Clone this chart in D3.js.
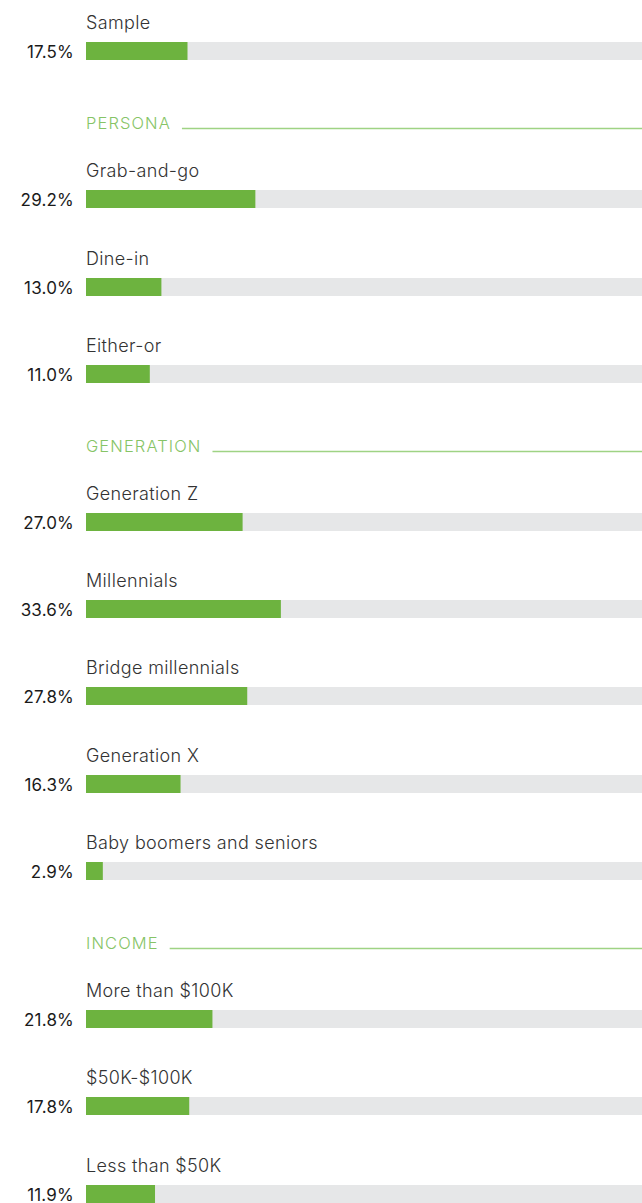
<!DOCTYPE html>
<html>
  <head>
    <meta charset="utf-8">
    <title>Share by segment</title>
    <script src="https://cdn.jsdelivr.net/npm/d3@7"></script>
    <style>
      body { margin: 0; background: #fff; overflow: hidden; }
      svg { display: block; }
      .cat { font-family: Inter, sans-serif; font-weight: 300; font-size: 18px; letter-spacing: 0.35px; fill: #333; }
      .val { font-family: Inter, sans-serif; font-weight: 400; font-size: 17px; letter-spacing: 0.2px; fill: #1a1a1a; text-anchor: end; }
      .head { font-family: Inter, sans-serif; font-weight: 300; font-size: 16.5px; letter-spacing: 1.1px; fill: #86c466; }
    </style>
  </head>
  <body>
    <svg id="chart" width="642" height="1203"></svg>

    <script>
      // data
      sections = ["", "PERSONA", "GENERATION", "INCOME"];
      sampleLabels = ["Sample"];
      sampleValues = [17.5];
      personaLabels = ["Grab-and-go", "Dine-in", "Either-or"];
      personaValues = [29.2, 13.0, 11.0];
      generationLabels = ["Generation Z", "Millennials", "Bridge millennials", "Generation X", "Baby boomers and seniors"];
      generationValues = [27.0, 33.6, 27.8, 16.3, 2.9];
      incomeLabels = ["More than $100K", "$50K-$100K", "Less than $50K"];
      incomeValues = [21.8, 17.8, 11.9];

      groups = [
        { name: sections[0], labels: sampleLabels, values: sampleValues },
        { name: sections[1], labels: personaLabels, values: personaValues },
        { name: sections[2], labels: generationLabels, values: generationValues },
        { name: sections[3], labels: incomeLabels, values: incomeValues }
      ];

      // layout
      width = 642;
      barLeft = 86;
      barH = 18;
      rowStep = 87.2;
      headGap = 81.3;   // last bar top -> next header
      firstGap = 67;    // header -> first bar top

      x = d3.scaleLinear().domain([0, 100]).range([barLeft, barLeft + 580]);

      rows = [];
      heads = [];
      y = 42;
      groups.forEach(function(g, gi) {
        if (gi > 0) {
          var hy = y - rowStep + headGap;
          heads.push({ name: g.name, y: hy });
          y = hy + firstGap;
        }
        g.labels.forEach(function(l, i) {
          rows.push({ label: l, value: g.values[i], y: Math.round(y) });
          y += rowStep;
        });
      });

      svg = d3.select("#chart");

      // section headers
      headG = svg.selectAll(".headG")
        .data(heads)
        .enter().append("g")
          .attr("transform", function(d) { return "translate(0," + Math.round(d.y) + ")"; });
      headG.append("text")
        .classed("head", true)
        .attr("x", barLeft)
        .attr("y", 6)
        .text(function(d) { return d.name; });
      headG.each(function() {
        var g = d3.select(this);
        var tw = g.select("text").node().getComputedTextLength();
        g.append("line")
          .attr("x1", barLeft + tw + 11)
          .attr("x2", width)
          .attr("y1", 5.5)
          .attr("y2", 5.5)
          .attr("stroke", "#9fd384")
          .attr("stroke-width", 1.5);
      });

      // bars
      rowG = svg.selectAll(".row")
        .data(rows)
        .enter().append("g")
          .attr("transform", function(d) { return "translate(0," + d.y + ")"; });
      rowG.append("rect")
        .attr("x", x(0))
        .attr("width", x(100) - x(0))
        .attr("height", barH)
        .attr("fill", "#e6e7e8");
      rowG.append("rect")
        .attr("x", x(0))
        .attr("width", function(d) { return x(d.value) - x(0); })
        .attr("height", barH)
        .attr("fill", "#6db33f");
      rowG.append("text")
        .classed("cat", true)
        .attr("x", barLeft)
        .attr("y", -13)
        .text(function(d) { return d.label; });
      rowG.append("text")
        .classed("val", true)
        .attr("x", 74)
        .attr("y", 16)
        .text(function(d) { return d3.format(".1f")(d.value) + "%"; });
    </script>
  </body>
</html>
